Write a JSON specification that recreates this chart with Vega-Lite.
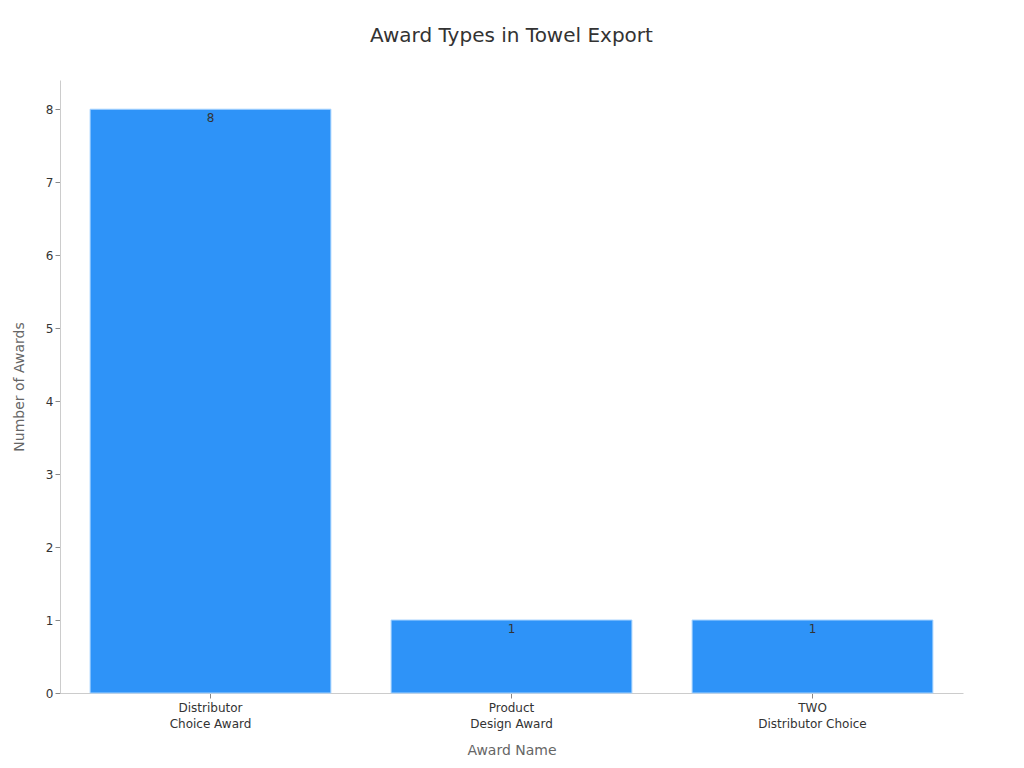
{
  "$schema": "https://vega.github.io/schema/vega-lite/v6.json",
  "autosize": {"type": "fit", "contains": "padding"},
  "width": 1024,
  "height": 768,
  "padding": {"left": 12, "top": 26, "right": 61, "bottom": 11},
  "title": {
    "text": "Award Types in Towel Export",
    "fontSize": 20,
    "fontWeight": "normal",
    "color": "#333333",
    "font": "DejaVu Sans",
    "offset": 34
  },
  "data": {
    "values": [
      {"award": "Distributor\nChoice Award", "count": 8},
      {"award": "Product\nDesign Award", "count": 1},
      {"award": "TWO\nDistributor Choice", "count": 1}
    ]
  },
  "encoding": {
    "x": {
      "field": "award",
      "type": "nominal",
      "sort": null,
      "title": "Award Name",
      "scale": {"paddingInner": 0.2, "paddingOuter": 0.1},
      "axis": {
        "labelAngle": 0,
        "labelExpr": "split(datum.value, '\\n')",
        "labelFontSize": 12,
        "labelLineHeight": 16,
        "labelColor": "#333333",
        "labelPadding": 4,
        "titleFontSize": 14,
        "titleFontWeight": "normal",
        "titleColor": "#666666",
        "titlePadding": 14,
        "domainColor": "#cccccc",
        "tickColor": "#888888",
        "tickSize": 5
      }
    },
    "y": {
      "field": "count",
      "type": "quantitative",
      "title": "Number of Awards",
      "scale": {"domain": [0, 8.4], "nice": false},
      "axis": {
        "values": [0, 1, 2, 3, 4, 5, 6, 7, 8],
        "grid": false,
        "labelFontSize": 12,
        "labelColor": "#333333",
        "titleFontSize": 14,
        "titleFontWeight": "normal",
        "titleColor": "#666666",
        "titlePadding": 19,
        "domainColor": "#cccccc",
        "tickColor": "#888888",
        "tickSize": 5
      }
    }
  },
  "layer": [
    {
      "mark": {"type": "bar", "color": "#2e93f8", "stroke": "#a8d4ff", "strokeWidth": 1}
    },
    {
      "mark": {"type": "text", "baseline": "top", "dy": 4, "fontSize": 12, "color": "#333333"},
      "encoding": {"text": {"field": "count", "type": "quantitative"}}
    }
  ],
  "config": {
    "font": "DejaVu Sans",
    "view": {"stroke": null}
  }
}
